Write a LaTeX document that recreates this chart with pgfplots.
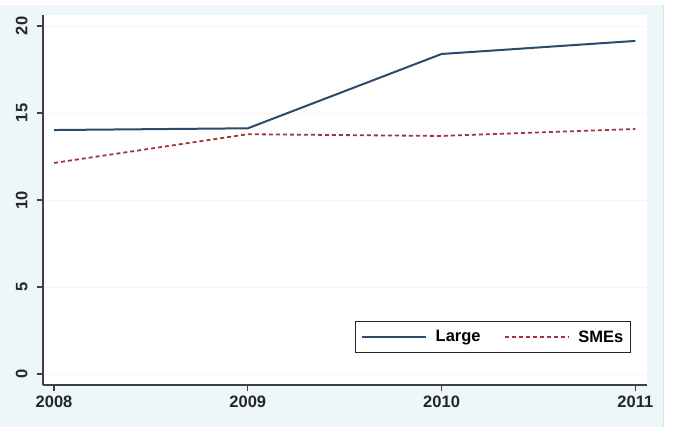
\documentclass[border=0pt]{standalone}
\usepackage{pgfplots}
\pgfplotsset{compat=1.18}
\usepackage{fontspec}
\setmainfont{Liberation Sans}
\definecolor{bgblue}{HTML}{EDF6F9}
\definecolor{stnavy}{HTML}{2B4A6E}
\definecolor{stmaroon}{HTML}{A0353B}
\begin{document}
\begin{tikzpicture}[x=1pt,y=1pt]
\path (0,0) rectangle (683,429);
\fill[bgblue] (0,2) rectangle (663,424);
\draw[color=black!12, line width=1pt] (663,2) -- (663,424);
\begin{axis}[
  at={(43pt,44pt)}, anchor=south west,
  scale only axis, width=604pt, height=370pt,
  xmin=2007.943, xmax=2011.06,
  ymin=-0.63, ymax=20.63,
  axis x line*=bottom, axis y line*=left,
  axis line style={color=black!75, line width=1.2pt},
  axis background/.style={fill=white},
  xtick={2008,2009,2010,2011},
  ytick={0,5,10,15,20},
  xticklabel style={/pgf/number format/1000 sep={}},
  /pgf/number format/assume math mode=true,
  tick label style={font=\fontsize{16.5}{19}\selectfont\bfseries, text=black!85},
  yticklabel style={rotate=90, anchor=south, yshift=6pt},
  xticklabel style={yshift=-1pt},
  tick align=outside,
  major tick length=6pt,
  tick style={color=black!75, line width=1.1pt},
  ymajorgrids, grid style={color=black!4, line width=0.6pt},
  legend columns=2,
  legend style={at={(0.517,0.0865)}, anchor=south west, draw=black!85, line width=0.9pt,
    fill=white, font=\fontsize{16.5}{19}\selectfont\bfseries, inner xsep=5pt, inner ysep=7pt,
    /tikz/every odd column/.append style={column sep=7pt},
    /tikz/every even column/.append style={column sep=21pt}},
  legend image code/.code={\draw[#1] (0pt,0pt) -- (64pt,0pt);},
  clip=false,
]
\addplot[color=stnavy, line width=2pt] coordinates {(2008,14.02) (2009,14.12) (2010,18.39) (2011,19.14)};
\addlegendentry{Large}
\addplot[color=stmaroon, line width=1.8pt, dash pattern=on 4pt off 3pt] coordinates {(2008,12.13) (2009,13.78) (2010,13.68) (2011,14.08)};
\addlegendentry{SMEs}
\end{axis}
\end{tikzpicture}
\end{document}
